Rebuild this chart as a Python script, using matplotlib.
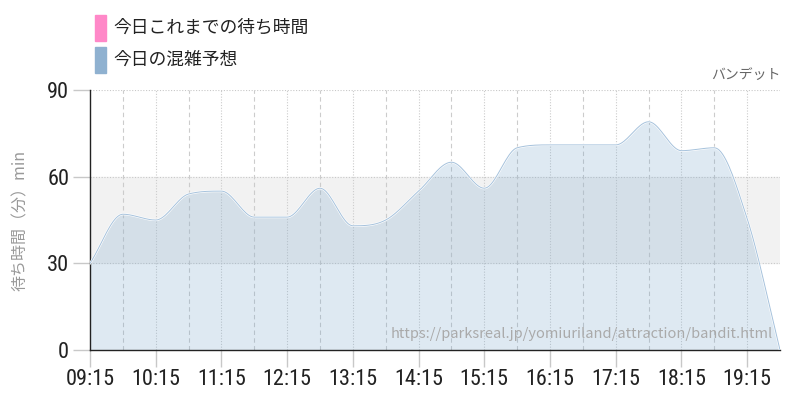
import numpy as np
import matplotlib.pyplot as plt
from matplotlib import font_manager
from matplotlib.patches import Rectangle

# minutes after 09:15, one point every 30 min
minutes = np.arange(0, 631, 30)
forecast = [30, 47, 45, 54, 55, 46, 46, 56, 43, 45, 55, 65, 56, 70, 71, 71, 71, 79, 69, 70, 45.5, 0]
tick_labels = ['09:15', '10:15', '11:15', '12:15', '13:15', '14:15',
               '15:15', '16:15', '17:15', '18:15', '19:15']
legend_labels = ['今日これまでの待ち時間', '今日の混雑予想']
legend_colors = ['#ff88c8', '#8fb1d0']

jp = ['Noto Sans CJK JP', 'DejaVu Sans']

# the numbers use a condensed face in the original, take one if there is one
installed = {f.name for f in font_manager.fontManager.ttflist}
num_font = ['Roboto', 'DejaVu Sans']
for cand in ['Roboto Condensed', 'Liberation Sans Narrow', 'Open Sans Condensed', 'DejaVu Sans Condensed']:
    if cand in installed:
        num_font = [cand, 'DejaVu Sans']
        break


def monotone(x, y, n=20):
    # monotone cubic (Fritsch-Carlson) like the chart.js curve
    x = np.asarray(x, float)
    y = np.asarray(y, float)
    h = np.diff(x)
    d = np.diff(y) / h
    m = np.zeros_like(y)
    m[0], m[-1] = d[0], d[-1]
    for i in range(1, len(y) - 1):
        if d[i - 1] * d[i] <= 0:
            m[i] = 0
        else:
            m[i] = (d[i - 1] + d[i]) / 2
    for i in range(len(d)):
        if d[i] == 0:
            m[i] = m[i + 1] = 0
            continue
        a, b = m[i] / d[i], m[i + 1] / d[i]
        s = a * a + b * b
        if s > 9:
            t = 3 / np.sqrt(s)
            m[i], m[i + 1] = t * a * d[i], t * b * d[i]
    xs, ys = [], []
    for i in range(len(d)):
        t = np.linspace(0, 1, n, endpoint=False)
        h00 = 2 * t**3 - 3 * t**2 + 1
        h10 = t**3 - 2 * t**2 + t
        h01 = -2 * t**3 + 3 * t**2
        h11 = t**3 - t**2
        xs.append(x[i] + t * h[i])
        ys.append(h00 * y[i] + h10 * h[i] * m[i] + h01 * y[i + 1] + h11 * h[i] * m[i + 1])
    xs.append([x[-1]])
    ys.append([y[-1]])
    return np.concatenate(xs), np.concatenate(ys)


fig = plt.figure(figsize=(8, 4), dpi=100)
ax = fig.add_axes([0.1125, 0.125, 0.8625, 0.65])

ax.set_xlim(0, 630)
ax.set_ylim(0, 90)

# gray band 30-60
ax.axhspan(30, 60, color='#f2f2f2', zorder=0)

# grid
for y in [30, 60, 90]:
    ax.axhline(y, color='#c8c8c8', lw=0.8, ls=(0, (1, 1.5)), zorder=1)
for m in minutes[1:-1]:
    if m % 60 == 0:
        ax.axvline(m, color='#cccccc', lw=0.8, ls=(0, (1, 1.5)), zorder=1)
    else:
        ax.axvline(m, color='#cccccc', lw=0.8, ls=(0, (4, 3)), zorder=1)

xs, ys = monotone(minutes, forecast)
ax.fill_between(xs, 0, ys, color='#74a4cb', alpha=0.23, lw=0, zorder=2)
ax.plot(xs, ys, color='#ffffff', lw=1.6, zorder=3)
ax.plot(xs, ys, color='#a6c2dc', lw=0.7, zorder=4)

# axes style
for s in ['top', 'right']:
    ax.spines[s].set_visible(False)
ax.spines['left'].set_color('#222222')
ax.spines['bottom'].set_color('#222222')
ax.spines['left'].set_linewidth(1)
ax.spines['bottom'].set_linewidth(1)

ax.set_yticks([0, 30, 60, 90])
ax.set_xticks(minutes[::2])
ax.set_xticklabels(tick_labels)
ax.tick_params(axis='both', colors='#c8c8c8', length=12, width=1, labelcolor='#222222',
               labelsize=16, pad=3)
ax.tick_params(axis='x', pad=2)
for lbl in ax.get_xticklabels() + ax.get_yticklabels():
    lbl.set_family(num_font)

ax.set_ylabel('待ち時間（分）min', family=jp, color='#999999', fontsize=11.5, labelpad=13)

ax.text(1.0, 1.03, 'バンデット', transform=ax.transAxes, ha='right', va='bottom',
        family=jp, color='#666666', fontsize=10)
ax.text(0.99, 0.035, 'https://parksreal.jp/yomiuriland/attraction/bandit.html',
        transform=ax.transAxes, ha='right', va='bottom', family=jp,
        color='#aaaaaa', fontsize=10.5, zorder=5)

# legend boxes at the top
for i, (lab, col) in enumerate(zip(legend_labels, legend_colors)):
    top = 15 + i * 32
    fig.patches.append(Rectangle((95 / 800, 1 - (top + 26) / 400), 11 / 800, 26 / 400,
                                 transform=fig.transFigure, color=col))
    fig.text(113 / 800, 1 - (top + 13) / 400, lab, family=jp, fontsize=12.8,
             color='#222222', va='center', ha='left')

fig.savefig('out.png', dpi=100)
